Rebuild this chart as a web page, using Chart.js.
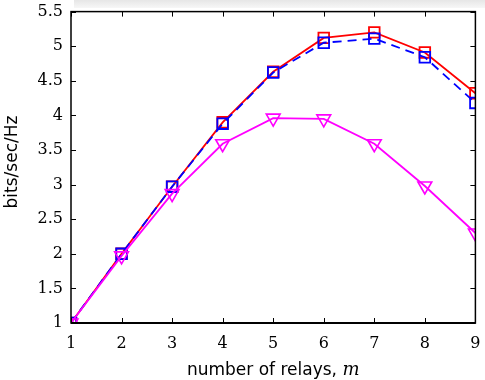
<!DOCTYPE html>
<html><head><meta charset="utf-8">
<script src="https://cdn.jsdelivr.net/npm/chart.js@4.4.1/dist/chart.umd.min.js"></script>
<style>html,body{margin:0;padding:0;background:#fff}#wrap{width:485px;height:380px}</style>
</head><body><div id="wrap"><canvas id="c" width="485" height="380"></canvas></div>
<script>
const relays = [1,2,3,4,5,6,7,8,9];
const redVals = [1.0, 2.0, 2.97, 3.9, 4.63, 5.12, 5.2, 4.91, 4.32];
const blueVals = [1.0, 2.0, 2.97, 3.88, 4.62, 5.05, 5.11, 4.84, 4.18];
const magentaVals = [1.0, 1.97, 2.87, 3.59, 3.96, 3.95, 3.59, 2.98, 2.3];
const xTicks = [1,2,3,4,5,6,7,8,9];
const yTicks = [1,1.5,2,2.5,3,3.5,4,4.5,5,5.5];
const xTitle = 'number of relays, ';
const xTitleVar = 'm';
const yTitle = 'bits/sec/Hz';

const pts = v => relays.map((x,i)=>({x:x,y:v[i]}));

const frame = {
  id:'frame',
  beforeDraw(chart){
    const ctx = chart.ctx;
    ctx.save();
    const g = ctx.createLinearGradient(0,0,0,8);
    g.addColorStop(0,'#e6e6e6'); g.addColorStop(1,'#f7f7f7');
    ctx.fillStyle = g;
    ctx.fillRect(74,0,411,8);
    ctx.restore();
  },
  afterDatasetsDraw(chart){
    const {ctx, chartArea:a, scales:{x,y}} = chart;
    ctx.save();
    ctx.strokeStyle='#000';
    ctx.lineWidth=1;
    const t=5;
    xTicks.forEach(v=>{const px=Math.round(x.getPixelForValue(v))+0.5;
      ctx.beginPath();ctx.moveTo(px,a.bottom);ctx.lineTo(px,a.bottom-t);ctx.moveTo(px,a.top);ctx.lineTo(px,a.top+t);ctx.stroke();});
    yTicks.forEach(v=>{const py=Math.round(y.getPixelForValue(v))+0.5;
      ctx.beginPath();ctx.moveTo(a.left,py);ctx.lineTo(a.left+t,py);ctx.moveTo(a.right,py);ctx.lineTo(a.right-t,py);ctx.stroke();});
    ctx.lineWidth=1.5;
    ctx.strokeRect(a.left,a.top,a.right-a.left,a.bottom-a.top);
    ctx.lineWidth=2.2;
    ctx.beginPath();ctx.moveTo(a.left,a.bottom);ctx.lineTo(a.right,a.bottom);ctx.stroke();
    // x title
    ctx.fillStyle='#000';
    ctx.textBaseline='alphabetic';
    ctx.font='17px "DejaVu Sans"';
    const w1=ctx.measureText(xTitle).width;
    ctx.font='italic 18px "DejaVu Serif"';
    const w2=ctx.measureText(xTitleVar).width;
    const cx=(a.left+a.right)/2;
    let sx=cx-(w1+w2)/2;
    ctx.font='17px "DejaVu Sans"';
    ctx.textAlign='left';
    ctx.fillText(xTitle,sx,375);
    ctx.font='italic 18px "DejaVu Serif"';
    ctx.fillText(xTitleVar,sx+w1,375);
    // y title
    ctx.save();
    ctx.translate(17,162);
    ctx.rotate(-Math.PI/2);
    ctx.textAlign='center';
    ctx.font='17px "DejaVu Sans"';
    ctx.fillText(yTitle,0,0);
    ctx.restore();
    ctx.restore();
  }
};

new Chart(document.getElementById('c'),{
  type:'line',
  data:{datasets:[
    {data:pts(magentaVals),borderColor:'#ff00ff',borderWidth:1.8,pointStyle:'triangle',rotation:180,pointRadius:8,pointBorderWidth:1.6,pointBorderColor:'#ff00ff',pointBackgroundColor:'rgba(0,0,0,0)',tension:0},
    {data:pts(blueVals),borderColor:'#0000ff',borderWidth:1.8,borderDash:[9,6],pointStyle:'rect',pointRadius:7.5,pointBorderWidth:1.8,pointBorderColor:'#0000ff',pointBackgroundColor:'rgba(0,0,0,0)',tension:0},
    {data:pts(redVals),borderColor:'#ff0000',borderWidth:1.8,pointStyle:'rect',pointRadius:7.5,pointBorderWidth:1.8,pointBorderColor:'#ff0000',pointBackgroundColor:'rgba(0,0,0,0)',tension:0}
  ]},
  options:{
    responsive:false,animation:false,
    layout:{padding:{top:11,right:0,left:0,bottom:0}},
    plugins:{legend:{display:false},tooltip:{enabled:false}},
    scales:{
      x:{type:'linear',min:1,max:9,
        afterBuildTicks(s){s.ticks=xTicks.map(v=>({value:v}));},
        afterFit(s){s.height=57;},
        grid:{display:true,drawOnChartArea:false,drawTicks:true,tickLength:11,tickColor:'rgba(0,0,0,0)'},border:{display:false},
        ticks:{padding:0,color:'#000',font:{family:'DejaVu Serif',size:16},callback:v=>String(v)}},
      y:{type:'linear',min:1,max:5.5,
        afterBuildTicks(s){s.ticks=yTicks.map(v=>({value:v}));},
        afterFit(s){s.width=71;},
        grid:{display:true,drawOnChartArea:false,drawTicks:true,tickLength:6,tickColor:'rgba(0,0,0,0)'},border:{display:false},
        ticks:{padding:2,color:'#000',font:{family:'DejaVu Serif',size:16},callback:v=>String(v)}}
    }
  },
  plugins:[frame]
});
</script></body></html>
